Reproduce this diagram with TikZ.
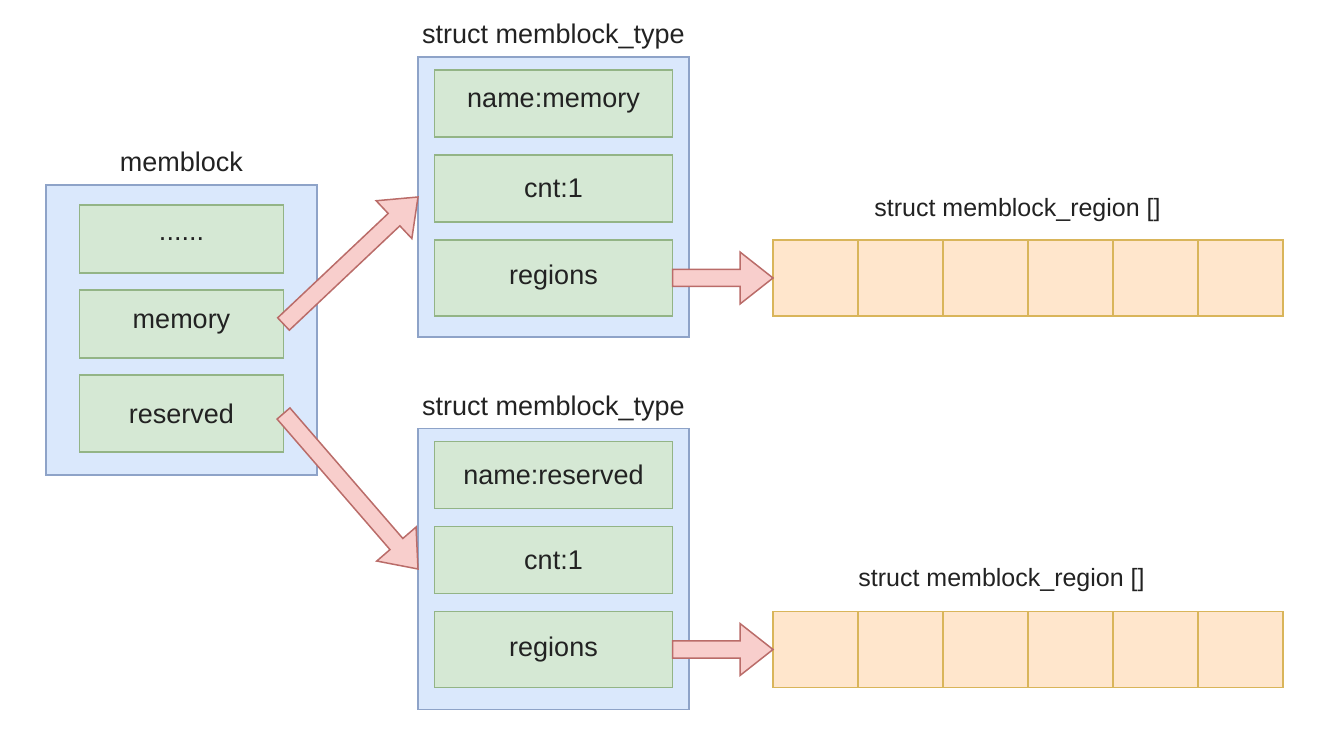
\documentclass[tikz,border=0pt]{standalone}
\usepackage{fontspec}
\setmainfont{Liberation Sans}
\usepackage{tikz}
\usetikzlibrary{positioning, calc}

\definecolor{boxblue}{HTML}{DAE8FC}
\definecolor{blueline}{HTML}{8EA3C8}
\definecolor{boxgreen}{HTML}{D5E8D4}
\definecolor{greenline}{HTML}{93B486}
\definecolor{cellfill}{HTML}{FFE6CC}
\definecolor{cellline}{HTML}{D9B55A}
\definecolor{arrowfill}{HTML}{F8CECC}
\definecolor{arrowline}{HTML}{BA6C69}
\definecolor{textcol}{HTML}{222222}

\begin{document}
\begin{tikzpicture}[x=1pt, y=1pt,
            outer/.style={rectangle, draw=blueline, fill=boxblue, line width=1.5pt, minimum width=271pt, outer sep=0pt},
            field/.style={rectangle, draw=greenline, fill=boxgreen, line width=1.5pt, minimum height=67pt, outer sep=0pt, text=textcol, font=\fontsize{27}{32}\selectfont},
            cell/.style={rectangle, draw=cellline, fill=cellfill, line width=1.5pt, minimum width=85pt, minimum height=76pt, outer sep=0pt},
            title/.style={text=textcol, inner sep=0pt, font=\fontsize{27}{32}\selectfont},
            arrtitle/.style={title, anchor=base, font=\fontsize{25}{30}\selectfont},
            fatarrow/.style={draw=arrowline, fill=arrowfill, line width=1.5pt, line join=miter, to path={
                ($(\tikztostart)!8.5pt!90:(\tikztotarget)$)
                -- ($($(\tikztotarget)!33pt!(\tikztostart)$)!8.5pt!-90:(\tikztostart)$)
                -- ($($(\tikztotarget)!33pt!(\tikztostart)$)!26pt!-90:(\tikztostart)$)
                -- (\tikztotarget)
                -- ($($(\tikztotarget)!33pt!(\tikztostart)$)!26pt!90:(\tikztostart)$)
                -- ($($(\tikztotarget)!33pt!(\tikztostart)$)!8.5pt!90:(\tikztostart)$)
                -- ($(\tikztostart)!8.5pt!-90:(\tikztotarget)$)
                -- cycle}},
        ]
            \useasboundingbox (0,0) rectangle (1319,728);

            % memblock
            \node[outer, minimum height=290pt] (memblock) at (181.5,398) {};
            \node[title, above=13pt of memblock.north, anchor=base] (memblock_title) {memblock};
            \node[field, minimum width=204pt, minimum height=68pt, below=20pt of memblock.north] (mb_dots) {......};
            \node[field, minimum width=204pt, minimum height=68pt, below=17pt of mb_dots] (mb_memory) {memory};
            \node[field, minimum width=204pt, minimum height=77pt, below=17pt of mb_memory] (mb_reserved) {reserved};

            % memblock_type (memory)
            \node[outer, minimum height=280pt] (type_mem) at (553.5,531) {};
            \node[title, above=13pt of type_mem.north, anchor=base] (type_mem_title) {struct memblock\_type};
            \node[field, minimum width=238pt, below=13pt of type_mem.north] (tm_name) {name:memory};
            \node[field, minimum width=238pt, below=18pt of tm_name] (tm_cnt) {cnt:1};
            \node[field, minimum width=238pt, minimum height=76pt, below=18pt of tm_cnt] (tm_regions) {regions};

            % memblock_type (reserved)
            \node[outer, minimum height=281pt] (type_res) at (553.5,159) {};
            \node[title, above=13pt of type_res.north, anchor=base] (type_res_title) {struct memblock\_type};
            \node[field, minimum width=238pt, below=13pt of type_res.north] (tr_name) {name:reserved};
            \node[field, minimum width=238pt, below=18pt of tr_name] (tr_cnt) {cnt:1};
            \node[field, minimum width=238pt, minimum height=76pt, below=18pt of tr_cnt] (tr_regions) {regions};

            % memblock_region []
            \node[cell, right=100.5pt of tm_regions] (rm1) {};
            \node[cell, right=0pt of rm1] (rm2) {};
            \node[cell, right=0pt of rm2] (rm3) {};
            \node[cell, right=0pt of rm3] (rm4) {};
            \node[cell, right=0pt of rm4] (rm5) {};
            \node[cell, right=0pt of rm5] (rm6) {};
            \node[arrtitle] (rg_mem_title) at (1017.5,511) {struct memblock\_region []};

            \node[cell, right=100.5pt of tr_regions] (rr1) {};
            \node[cell, right=0pt of rr1] (rr2) {};
            \node[cell, right=0pt of rr2] (rr3) {};
            \node[cell, right=0pt of rr3] (rr4) {};
            \node[cell, right=0pt of rr4] (rr5) {};
            \node[cell, right=0pt of rr5] (rr6) {};
            \node[arrtitle] (rg_res_title) at (1001.5,141) {struct memblock\_region []};

            % Flechas
            \draw[fatarrow] (mb_memory.east) to (type_mem.west);
            \draw[fatarrow] (mb_reserved.east) to (type_res.west);
            \draw[fatarrow] (tm_regions.east) to (rm1.west);
            \draw[fatarrow] (tr_regions.east) to (rr1.west);
        \end{tikzpicture}
\end{document}
